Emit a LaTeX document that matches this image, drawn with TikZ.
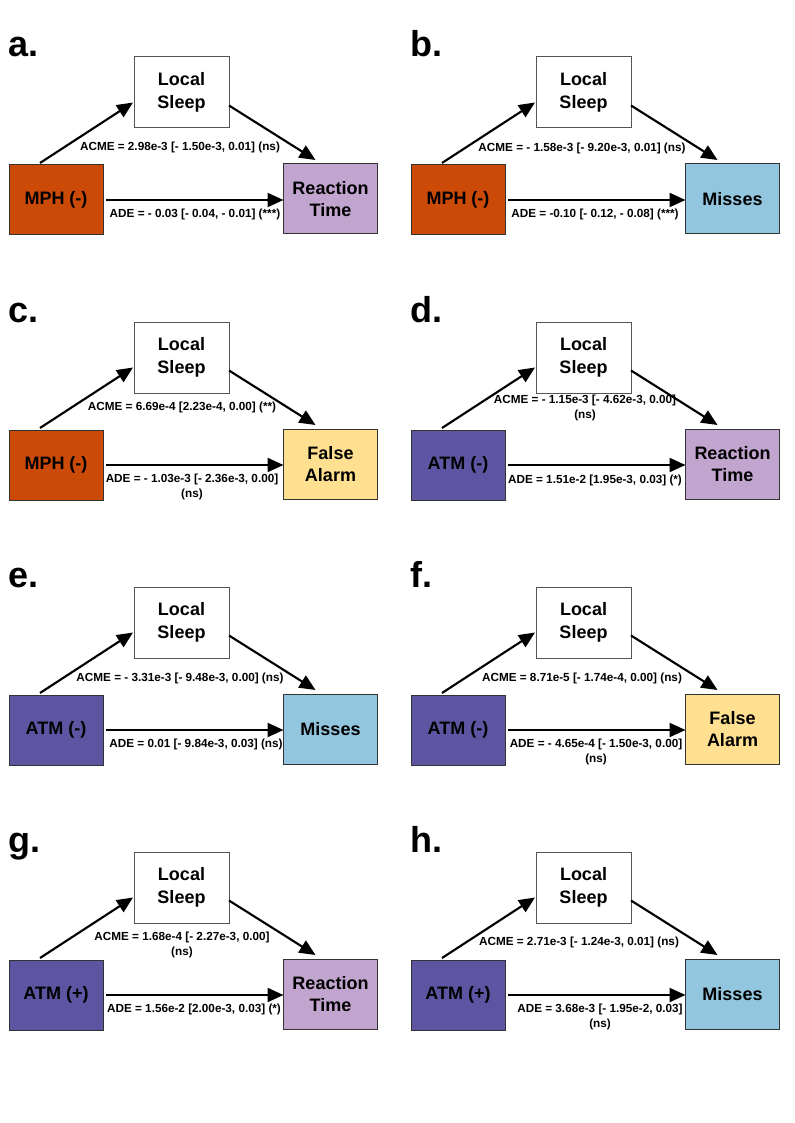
\documentclass[tikz,border=0pt]{standalone}
\usepackage{fontspec}
\setmainfont{Liberation Sans}
\usetikzlibrary{arrows.meta,calc}

\definecolor{mphorange}{HTML}{CC4A08}
\definecolor{atmpurple}{HTML}{5E55A2}
\definecolor{rtlilac}{HTML}{C2A5CF}
\definecolor{missblue}{HTML}{92C5DE}
\definecolor{fayellow}{HTML}{FEE090}
\definecolor{boxline}{HTML}{333333}
\definecolor{medline}{HTML}{555555}

% one mediation diagram: #1 panel letter, #2/#3 offset (px),
% #4 treatment text, #5 treatment style, #6 outcome text, #7 outcome style
\newcommand\mediation[7]{%
  \begin{scope}[shift={(#2,#3)}]
    \node[tag] (#1tag) at (8.5,57) {#1.};
    \node[medbox] (#1med) at (181.5,92.5) {Local\\Sleep};
    \node[#5] (#1src) at (56,200) {#4};
    \node[#7] (#1out) at (330.5,199) {#6};
  \end{scope}
  \draw[effect] ($(#1src.north west)+(31,-2)$) -- ($(#1med.west)+(-1,10)$);
  \draw[effect] ($(#1med.east)+(0,13)$) -- ($(#1out.north west)+(32,-4)$);
  \draw[effect] ($(#1src.east)+(3,0)$) -- (#1src.east -| #1out.west);
}

\begin{document}
\begin{tikzpicture}[x=0.75pt,y=-0.75pt,
  box/.style={draw=boxline, line width=0.75pt, minimum width=70.5pt,
    minimum height=52.5pt, inner sep=0pt, outer sep=0pt, align=center,
    font=\fontsize{13.5}{17}\selectfont\bfseries},
  medbox/.style={box, fill=white, draw=medline, minimum width=71.25pt,
    minimum height=53.25pt},
  mph/.style={box, fill=mphorange},
  atm/.style={box, fill=atmpurple},
  rt/.style={box, fill=rtlilac},
  miss/.style={box, fill=missblue},
  fa/.style={box, fill=fayellow},
  effect/.style={-{Triangle[length=12pt,width=10.5pt]}, line width=1.6pt},
  est/.style={font=\fontsize{8.8}{10.9}\selectfont\bfseries, align=center,
    inner sep=0pt},
  tag/.style={font=\fontsize{27}{27}\selectfont\bfseries, anchor=base west,
    inner sep=0pt}
]
\fill[white] (0,0) rectangle (794,1123);
\useasboundingbox (0,0) rectangle (794,1123);

% row 1
\mediation{a}{0}{0}{MPH (-)}{mph}{Reaction\\Time}{rt}
\node[est] (aacme) at (180,147) {ACME = 2.98e-3 [- 1.50e-3, 0.01] (ns)};
\node[est] (aade) at (195,214) {ADE = - 0.03 [- 0.04, - 0.01] (***)};

\mediation{b}{402}{0}{MPH (-)}{mph}{Misses}{miss}
\node[est] (bacme) at (582,148) {ACME = - 1.58e-3 [- 9.20e-3, 0.01] (ns)};
\node[est] (bade) at (595,214) {ADE = -0.10 [- 0.12, - 0.08] (***)};

% row 2
\mediation{c}{0}{265}{MPH (-)}{mph}{False\\Alarm}{fa}
\node[est] (cacme) at (182,407) {ACME = 6.69e-4 [2.23e-4, 0.00] (**)};
\node[est] (cade) at (192,487) {ADE = - 1.03e-3 [- 2.36e-3, 0.00]\\(ns)};

\mediation{d}{402}{265}{ATM (-)}{atm}{Reaction\\Time}{rt}
\node[est] (dacme) at (585,408) {ACME = - 1.15e-3 [- 4.62e-3, 0.00]\\(ns)};
\node[est] (dade) at (595,480) {ADE = 1.51e-2 [1.95e-3, 0.03] (*)};

% row 3
\mediation{e}{0}{530}{ATM (-)}{atm}{Misses}{miss}
\node[est] (eacme) at (180,678) {ACME = - 3.31e-3 [- 9.48e-3, 0.00] (ns)};
\node[est] (eade) at (196,744) {ADE = 0.01 [- 9.84e-3, 0.03] (ns)};

\mediation{f}{402}{530}{ATM (-)}{atm}{False\\Alarm}{fa}
\node[est] (facme) at (582,678) {ACME = 8.71e-5 [- 1.74e-4, 0.00] (ns)};
\node[est] (fade) at (596,752) {ADE = - 4.65e-4 [- 1.50e-3, 0.00]\\(ns)};

% row 4
\mediation{g}{0}{795}{ATM (+)}{atm}{Reaction\\Time}{rt}
\node[est] (gacme) at (182,945) {ACME = 1.68e-4 [- 2.27e-3, 0.00]\\(ns)};
\node[est] (gade) at (194,1009) {ADE = 1.56e-2 [2.00e-3, 0.03] (*)};

\mediation{h}{402}{795}{ATM (+)}{atm}{Misses}{miss}
\node[est] (hacme) at (579,942) {ACME = 2.71e-3 [- 1.24e-3, 0.01] (ns)};
\node[est] (hade) at (600,1017) {ADE = 3.68e-3 [- 1.95e-2, 0.03]\\(ns)};
\end{tikzpicture}
\end{document}
